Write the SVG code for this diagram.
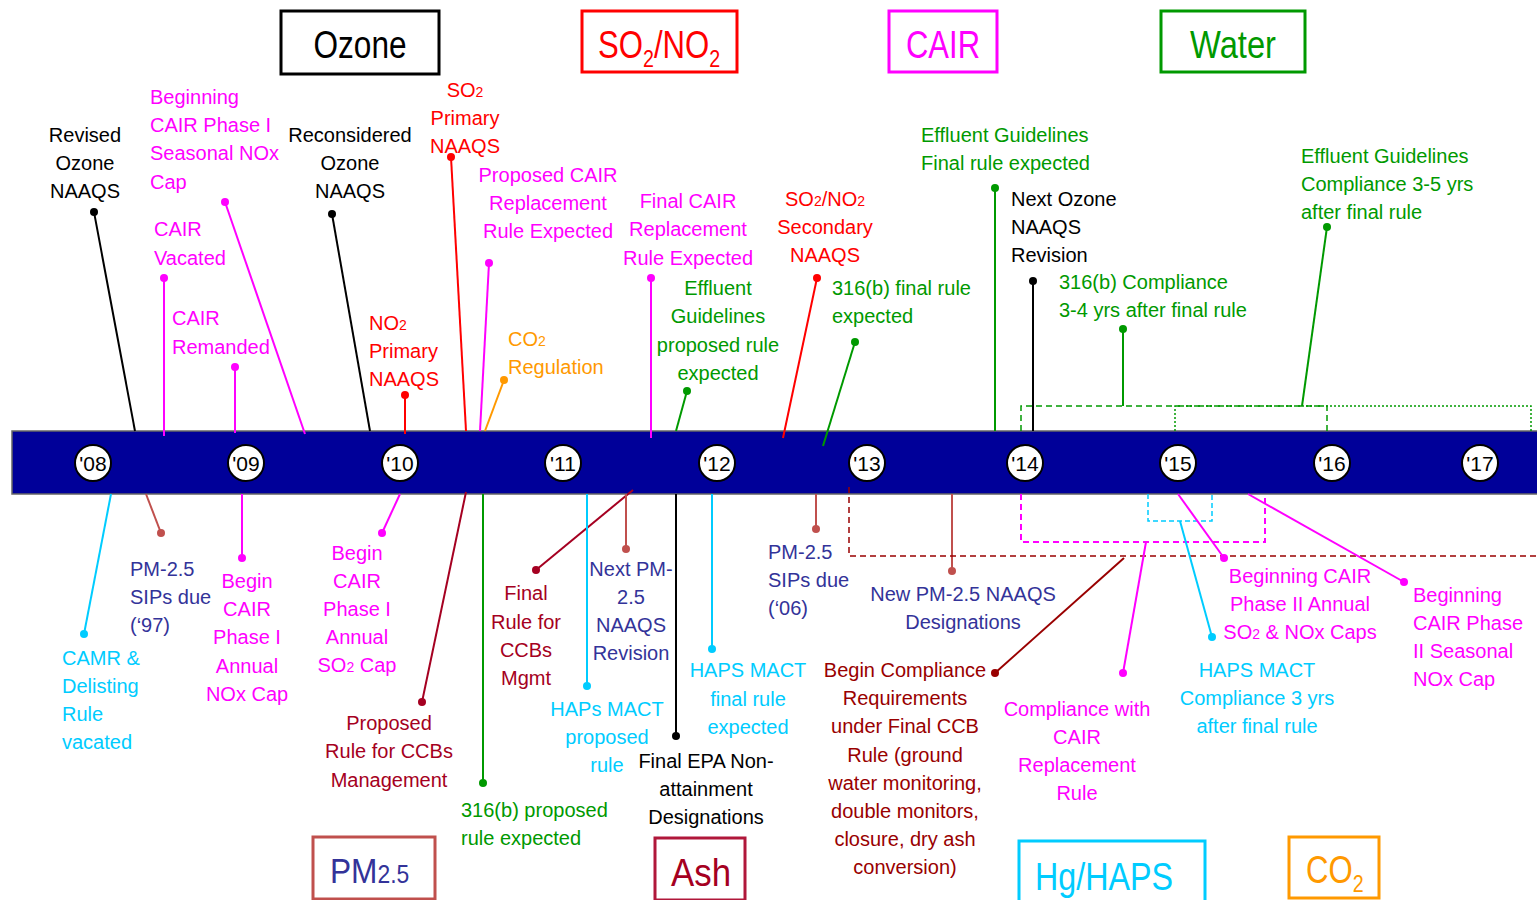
<svg xmlns="http://www.w3.org/2000/svg" width="1537" height="900" viewBox="0 0 1537 900">
<style>
text{font-family:"Liberation Sans",Arial,sans-serif;font-size:20px}
.m{text-anchor:middle}
.s{text-anchor:start}
.sub{font-size:14px}
.blk{fill:#000}.mag{fill:#ff00ff}.red{fill:#ff0000}.grn{fill:#009900}.org{fill:#ff9900}.cyn{fill:#00ccff}.nav{fill:#333399}.crm{fill:#a50021}.drd{fill:#990000}
.ln{fill:none;stroke-width:2}
.big{font-size:38px}
.box{fill:#fff;stroke-width:3}
.yr{fill:#fff;stroke:#000;stroke-width:2}
.yt{font-size:21px;text-anchor:middle;fill:#000}
</style>
<rect width="1537" height="900" fill="#fff"/>

<g id="legend">
 <g id="lg-ozone"><rect class="box" x="281" y="11" width="158" height="63" stroke="#000"/><text class="m big blk" x="360" y="58" textLength="93" lengthAdjust="spacingAndGlyphs">Ozone</text></g>
 <g id="lg-so2no2"><rect class="box" x="582" y="11" width="155" height="61" stroke="#ff0000"/><text class="red big" transform="translate(598,58) scale(0.82,1)" x="0" y="0">SO<tspan font-size="24px" dy="9">2</tspan><tspan dy="-9">/NO</tspan><tspan font-size="24px" dy="9">2</tspan></text></g>
 <g id="lg-cair"><rect class="box" x="889" y="11" width="108" height="61" stroke="#ff00ff"/><text class="m big mag" x="943" y="58" textLength="74" lengthAdjust="spacingAndGlyphs">CAIR</text></g>
 <g id="lg-water"><rect class="box" x="1161" y="11" width="144" height="61" stroke="#009900"/><text class="m big grn" x="1233" y="58" textLength="86" lengthAdjust="spacingAndGlyphs">Water</text></g>
 <g id="lg-pm25"><rect class="box" x="313" y="837" width="122" height="62" stroke="#c0504d"/><text class="nav" transform="translate(330,883) scale(0.88,1)" x="0" y="0" style="font-size:36px">PM<tspan font-size="26px">2.5</tspan></text></g>
 <g id="lg-ash"><rect class="box" x="655" y="838" width="90" height="62" stroke="#b0173a"/><text class="m big crm" x="701" y="886" textLength="60" lengthAdjust="spacingAndGlyphs">Ash</text></g>
 <g id="lg-hg"><rect class="box" x="1019" y="841" width="186" height="62" stroke="#00ccff"/><text class="m big cyn" x="1104" y="890" textLength="138" lengthAdjust="spacingAndGlyphs">Hg/HAPS</text></g>
 <g id="lg-co2"><rect class="box" x="1289" y="837" width="90" height="61" stroke="#ff9900"/><text class="org big" transform="translate(1306,883) scale(0.82,1)" x="0" y="0">CO<tspan font-size="24px" dy="9">2</tspan></text></g>
</g>

<g id="timeline">
 <rect x="12" y="431" width="1530" height="63" fill="#000099" stroke="#666" stroke-width="1.5"/>
</g>

<g id="connectors">
 <line class="ln" stroke="#000" x1="94" y1="212" x2="135" y2="431"/>
 <line class="ln" stroke="#ff00ff" x1="225" y1="202" x2="305" y2="434"/>
 <line class="ln" stroke="#ff00ff" x1="164" y1="278" x2="164" y2="436"/>
 <line class="ln" stroke="#ff00ff" x1="235" y1="367" x2="235" y2="433"/>
 <line class="ln" stroke="#000" x1="332" y1="214" x2="370" y2="431"/>
 <line class="ln" stroke="#ff0000" x1="451" y1="157" x2="466" y2="431"/>
 <line class="ln" stroke="#ff0000" x1="405" y1="395" x2="405" y2="434"/>
 <line class="ln" stroke="#ff00ff" x1="489" y1="263" x2="480" y2="431"/>
 <line class="ln" stroke="#ff9900" x1="504" y1="380" x2="485" y2="431"/>
 <line class="ln" stroke="#ff00ff" x1="651" y1="278" x2="651" y2="438"/>
 <line class="ln" stroke="#009900" x1="687" y1="391" x2="676" y2="431"/>
 <line class="ln" stroke="#ff0000" x1="817" y1="278" x2="783" y2="438"/>
 <line class="ln" stroke="#009900" x1="855" y1="342" x2="823" y2="446"/>
 <line class="ln" stroke="#009900" x1="995" y1="188" x2="995" y2="431"/>
 <line class="ln" stroke="#000" x1="1033" y1="281" x2="1033" y2="431"/>
 <line class="ln" stroke="#009900" x1="1123" y1="329" x2="1123" y2="406"/>
 <line class="ln" stroke="#009900" x1="1327" y1="227" x2="1302" y2="406"/>
 <path fill="none" stroke="#009900" stroke-width="1.5" stroke-dasharray="6,4" d="M1021,431 V406 H1327 V431"/>
 <path fill="none" stroke="#009900" stroke-width="1.5" stroke-dasharray="2,2" d="M1175,431 V406 H1531 V431"/>
 <line class="ln" stroke="#00ccff" x1="84" y1="634" x2="111" y2="494"/>
 <line class="ln" stroke="#c0504d" x1="161" y1="533" x2="146" y2="494"/>
 <line class="ln" stroke="#ff00ff" x1="242" y1="558" x2="242" y2="494"/>
 <line class="ln" stroke="#ff00ff" x1="382" y1="533" x2="400" y2="494"/>
 <line class="ln" stroke="#a50021" x1="422" y1="702" x2="466" y2="492"/>
 <line class="ln" stroke="#009900" x1="483" y1="783" x2="483" y2="494"/>
 <line class="ln" stroke="#a50021" x1="536" y1="570" x2="633" y2="490"/>
 <line class="ln" stroke="#00ccff" x1="587" y1="686" x2="587" y2="494"/>
 <line class="ln" stroke="#c0504d" x1="626" y1="549" x2="626" y2="494"/>
 <line class="ln" stroke="#000" x1="676" y1="736" x2="676" y2="494"/>
 <line class="ln" stroke="#00ccff" x1="712" y1="649" x2="712" y2="494"/>
 <line class="ln" stroke="#c0504d" x1="816" y1="529" x2="816" y2="494"/>
 <line class="ln" stroke="#c0504d" x1="952" y1="571" x2="952" y2="494"/>
 <path fill="none" stroke="#990000" stroke-width="1.5" stroke-dasharray="6,4" d="M849,487 V556 H1537"/>
 <path fill="none" stroke="#ff00ff" stroke-width="2" stroke-dasharray="6,4" d="M1021,494 V542 H1265 V494"/>
 <path fill="none" stroke="#00ccff" stroke-width="1.5" stroke-dasharray="5,3" d="M1148,494 V521 H1212 V494"/>
 <line class="ln" stroke="#990000" x1="995" y1="673" x2="1124" y2="558"/>
 <line class="ln" stroke="#ff00ff" x1="1123" y1="673" x2="1146" y2="542"/>
 <line class="ln" stroke="#00ccff" x1="1212" y1="637" x2="1180" y2="521"/>
 <line class="ln" stroke="#ff00ff" x1="1224" y1="558" x2="1178" y2="494"/>
 <line class="ln" stroke="#ff00ff" x1="1404" y1="582" x2="1248" y2="494"/>
 <g fill="#000"><circle cx="94" cy="212" r="4"/><circle cx="332" cy="214" r="4"/><circle cx="1033" cy="281" r="4"/><circle cx="676" cy="736" r="4"/></g>
 <g fill="#ff00ff"><circle cx="225" cy="202" r="4"/><circle cx="164" cy="278" r="4"/><circle cx="235" cy="367" r="4"/><circle cx="489" cy="263" r="4"/><circle cx="651" cy="278" r="4"/><circle cx="242" cy="558" r="4"/><circle cx="382" cy="533" r="4"/><circle cx="1123" cy="673" r="4"/><circle cx="1224" cy="558" r="4"/><circle cx="1404" cy="582" r="4"/></g>
 <g fill="#ff0000"><circle cx="451" cy="157" r="4"/><circle cx="405" cy="395" r="4"/><circle cx="817" cy="278" r="4"/></g>
 <g fill="#ff9900"><circle cx="504" cy="380" r="4"/></g>
 <g fill="#009900"><circle cx="687" cy="391" r="4"/><circle cx="855" cy="342" r="4"/><circle cx="995" cy="188" r="4"/><circle cx="1123" cy="329" r="4"/><circle cx="1327" cy="227" r="4"/><circle cx="483" cy="783" r="4"/></g>
 <g fill="#00ccff"><circle cx="84" cy="634" r="4"/><circle cx="587" cy="686" r="4"/><circle cx="712" cy="649" r="4"/><circle cx="1212" cy="637" r="4"/></g>
 <g fill="#c0504d"><circle cx="161" cy="533" r="4"/><circle cx="626" cy="549" r="4"/><circle cx="816" cy="529" r="4"/><circle cx="952" cy="571" r="4"/></g>
 <g fill="#a50021"><circle cx="422" cy="702" r="4"/><circle cx="536" cy="570" r="4"/></g>
 <g fill="#990000"><circle cx="995" cy="673" r="4"/></g>
</g>

<g id="years">
 <g id="y08"><circle class="yr" cx="93" cy="463" r="18"/><text class="yt" x="93" y="471">'08</text></g>
 <g id="y09"><circle class="yr" cx="246" cy="463" r="18"/><text class="yt" x="246" y="471">'09</text></g>
 <g id="y10"><circle class="yr" cx="400" cy="463" r="18"/><text class="yt" x="400" y="471">'10</text></g>
 <g id="y11"><circle class="yr" cx="563" cy="463" r="18"/><text class="yt" x="563" y="471">'11</text></g>
 <g id="y12"><circle class="yr" cx="717" cy="463" r="18"/><text class="yt" x="717" y="471">'12</text></g>
 <g id="y13"><circle class="yr" cx="867" cy="463" r="18"/><text class="yt" x="867" y="471">'13</text></g>
 <g id="y14"><circle class="yr" cx="1025" cy="463" r="18"/><text class="yt" x="1025" y="471">'14</text></g>
 <g id="y15"><circle class="yr" cx="1178" cy="463" r="18"/><text class="yt" x="1178" y="471">'15</text></g>
 <g id="y16"><circle class="yr" cx="1332" cy="463" r="18"/><text class="yt" x="1332" y="471">'16</text></g>
 <g id="y17"><circle class="yr" cx="1480" cy="463" r="18"/><text class="yt" x="1480" y="471">'17</text></g>
</g>

<g id="labels-top">
 <g id="n-revised"><text class="m blk"><tspan x="85" y="142">Revised</tspan><tspan x="85" y="170">Ozone</tspan><tspan x="85" y="198">NAAQS</tspan></text></g>
 <g id="n-begcair1s"><text class="s mag"><tspan x="150" y="104">Beginning</tspan><tspan x="150" y="132">CAIR Phase I</tspan><tspan x="150" y="160">Seasonal NOx</tspan><tspan x="150" y="189">Cap</tspan></text></g>
 <g id="n-vacated"><text class="s mag"><tspan x="154" y="236">CAIR</tspan><tspan x="154" y="265">Vacated</tspan></text></g>
 <g id="n-remanded"><text class="s mag"><tspan x="172" y="325">CAIR</tspan><tspan x="172" y="354">Remanded</tspan></text></g>
 <g id="n-reconsidered"><text class="m blk"><tspan x="350" y="142">Reconsidered</tspan><tspan x="350" y="170">Ozone</tspan><tspan x="350" y="198">NAAQS</tspan></text></g>
 <g id="n-so2primary"><text class="m red"><tspan x="465" y="97">SO<tspan class="sub">2</tspan></tspan><tspan x="465" y="125">Primary</tspan><tspan x="465" y="153">NAAQS</tspan></text></g>
 <g id="n-no2primary"><text class="s red"><tspan x="369" y="330">NO<tspan class="sub">2</tspan></tspan><tspan x="369" y="358">Primary</tspan><tspan x="369" y="386">NAAQS</tspan></text></g>
 <g id="n-propcair"><text class="m mag"><tspan x="548" y="182">Proposed CAIR</tspan><tspan x="548" y="210">Replacement</tspan><tspan x="548" y="238">Rule Expected</tspan></text></g>
 <g id="n-co2reg"><text class="s org"><tspan x="508" y="346">CO<tspan class="sub">2</tspan></tspan><tspan x="508" y="374">Regulation</tspan></text></g>
 <g id="n-finalcair"><text class="m mag"><tspan x="688" y="208">Final CAIR</tspan><tspan x="688" y="236">Replacement</tspan><tspan x="688" y="265">Rule Expected</tspan></text></g>
 <g id="n-effprop"><text class="m grn"><tspan x="718" y="295">Effluent</tspan><tspan x="718" y="323">Guidelines</tspan><tspan x="718" y="352">proposed rule</tspan><tspan x="718" y="380">expected</tspan></text></g>
 <g id="n-secondary"><text class="m red"><tspan x="825" y="206">SO<tspan class="sub">2</tspan>/NO<tspan class="sub">2</tspan></tspan><tspan x="825" y="234">Secondary</tspan><tspan x="825" y="262">NAAQS</tspan></text></g>
 <g id="n-316final"><text class="s grn"><tspan x="832" y="295">316(b) final rule</tspan><tspan x="832" y="323">expected</tspan></text></g>
 <g id="n-efffinal"><text class="s grn"><tspan x="921" y="142">Effluent Guidelines</tspan><tspan x="921" y="170">Final rule expected</tspan></text></g>
 <g id="n-nextozone"><text class="s blk"><tspan x="1011" y="206">Next Ozone</tspan><tspan x="1011" y="234">NAAQS</tspan><tspan x="1011" y="262">Revision</tspan></text></g>
 <g id="n-316comp"><text class="s grn"><tspan x="1059" y="289">316(b) Compliance</tspan><tspan x="1059" y="317">3-4 yrs after final rule</tspan></text></g>
 <g id="n-effcomp"><text class="s grn"><tspan x="1301" y="163">Effluent Guidelines</tspan><tspan x="1301" y="191">Compliance 3-5 yrs</tspan><tspan x="1301" y="219">after final rule</tspan></text></g>
</g>

<g id="labels-bottom">
 <g id="n-camr"><text class="s cyn"><tspan x="62" y="665">CAMR &amp;</tspan><tspan x="62" y="693">Delisting</tspan><tspan x="62" y="721">Rule</tspan><tspan x="62" y="749">vacated</tspan></text></g>
 <g id="n-sips97"><text class="s nav"><tspan x="130" y="576">PM-2.5</tspan><tspan x="130" y="604">SIPs due</tspan><tspan x="130" y="632">(‘97)</tspan></text></g>
 <g id="n-cairnox"><text class="m mag"><tspan x="247" y="588">Begin</tspan><tspan x="247" y="616">CAIR</tspan><tspan x="247" y="644">Phase I</tspan><tspan x="247" y="673">Annual</tspan><tspan x="247" y="701">NOx Cap</tspan></text></g>
 <g id="n-cairso2"><text class="m mag"><tspan x="357" y="560">Begin</tspan><tspan x="357" y="588">CAIR</tspan><tspan x="357" y="616">Phase I</tspan><tspan x="357" y="644">Annual</tspan><tspan x="357" y="672">SO<tspan class="sub">2</tspan> Cap</tspan></text></g>
 <g id="n-propccb"><text class="m crm"><tspan x="389" y="730">Proposed</tspan><tspan x="389" y="758">Rule for CCBs</tspan><tspan x="389" y="787">Management</tspan></text></g>
 <g id="n-316prop"><text class="s grn"><tspan x="461" y="817">316(b) proposed</tspan><tspan x="461" y="845">rule expected</tspan></text></g>
 <g id="n-finalccb"><text class="m crm"><tspan x="526" y="600">Final</tspan><tspan x="526" y="629">Rule for</tspan><tspan x="526" y="657">CCBs</tspan><tspan x="526" y="685">Mgmt</tspan></text></g>
 <g id="n-hapsprop"><text class="m cyn"><tspan x="607" y="716">HAPs MACT</tspan><tspan x="607" y="744">proposed</tspan><tspan x="607" y="772">rule</tspan></text></g>
 <g id="n-nextpm"><text class="m nav"><tspan x="631" y="576">Next PM-</tspan><tspan x="631" y="604">2.5</tspan><tspan x="631" y="632">NAAQS</tspan><tspan x="631" y="660">Revision</tspan></text></g>
 <g id="n-epa"><text class="m blk"><tspan x="706" y="768">Final EPA Non-</tspan><tspan x="706" y="796">attainment</tspan><tspan x="706" y="824">Designations</tspan></text></g>
 <g id="n-hapsfinal"><text class="m cyn"><tspan x="748" y="677">HAPS MACT</tspan><tspan x="748" y="706">final rule</tspan><tspan x="748" y="734">expected</tspan></text></g>
 <g id="n-sips06"><text class="s nav"><tspan x="768" y="559">PM-2.5</tspan><tspan x="768" y="587">SIPs due</tspan><tspan x="768" y="615">(‘06)</tspan></text></g>
 <g id="n-newpm"><text class="m nav"><tspan x="963" y="601">New PM-2.5 NAAQS</tspan><tspan x="963" y="629">Designations</tspan></text></g>
 <g id="n-begincomp"><text class="m drd"><tspan x="905" y="677">Begin Compliance</tspan><tspan x="905" y="705">Requirements</tspan><tspan x="905" y="733">under Final CCB</tspan><tspan x="905" y="762">Rule (ground</tspan><tspan x="905" y="790">water monitoring,</tspan><tspan x="905" y="818">double monitors,</tspan><tspan x="905" y="846">closure, dry ash</tspan><tspan x="905" y="874">conversion)</tspan></text></g>
 <g id="n-compcair"><text class="m mag"><tspan x="1077" y="716">Compliance with</tspan><tspan x="1077" y="744">CAIR</tspan><tspan x="1077" y="772">Replacement</tspan><tspan x="1077" y="800">Rule</tspan></text></g>
 <g id="n-hapscomp"><text class="m cyn"><tspan x="1257" y="677">HAPS MACT</tspan><tspan x="1257" y="705">Compliance 3 yrs</tspan><tspan x="1257" y="733">after final rule</tspan></text></g>
 <g id="n-cair2annual"><text class="m mag"><tspan x="1300" y="583">Beginning CAIR</tspan><tspan x="1300" y="611">Phase II Annual</tspan><tspan x="1300" y="639">SO<tspan class="sub">2</tspan> &amp; NOx Caps</tspan></text></g>
 <g id="n-cair2seasonal"><text class="s mag"><tspan x="1413" y="602">Beginning</tspan><tspan x="1413" y="630">CAIR Phase</tspan><tspan x="1413" y="658">II Seasonal</tspan><tspan x="1413" y="686">NOx Cap</tspan></text></g>
</g>
</svg>
